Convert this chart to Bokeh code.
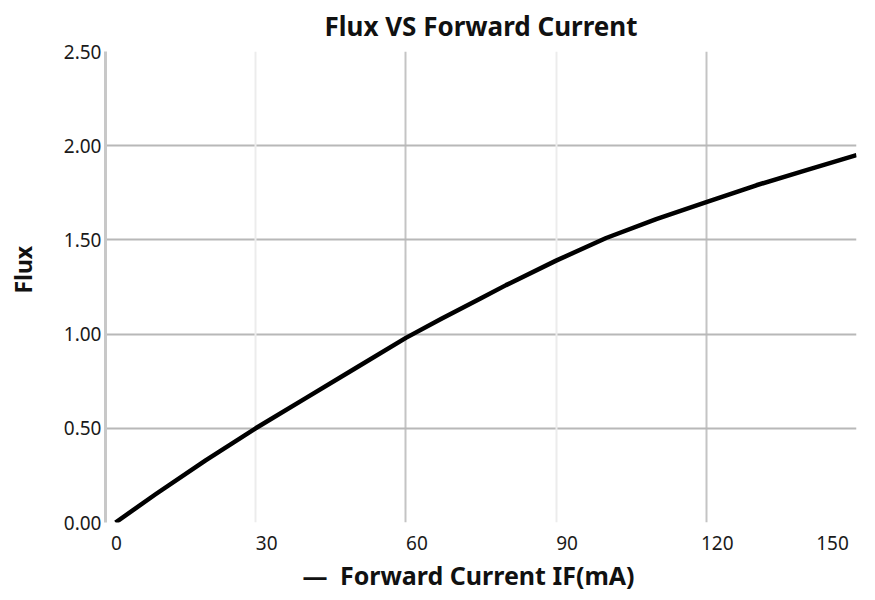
from bokeh.plotting import figure
from bokeh.models import (Range1d, FixedTicker, Grid, LinearAxis, NumeralTickFormatter)
from bokeh.embed import file_html
from bokeh.resources import INLINE

# ---- data ----
current_ma = [2, 10, 20, 30, 40, 50, 60, 67, 75, 80, 90, 100, 110, 120, 130, 140, 150]
flux = [0.00, 0.15, 0.33, 0.50, 0.66, 0.82, 0.98, 1.08, 1.19, 1.26, 1.39, 1.51, 1.61, 1.70,
        1.79, 1.87, 1.95]

x_ticks = [0, 30, 60, 90, 120, 150]
x_major_grid = [60, 120]
x_faint_grid = [30, 90, 150]
y_ticks = [0.0, 0.5, 1.0, 1.5, 2.0, 2.5]

title_text = "Flux VS Forward Current"
y_title = "\u2002\u2002\u2002Flux"
x_title = "—\u2002Forward Current IF(mA)\u2002\u2002"

FONT = "Noto Sans"
X_MIN, X_MAX = 0, 150
Y_MIN, Y_MAX = 0, 2.5

p = figure(width=875, height=600, output_backend="svg", toolbar_location=None,
           x_range=Range1d(X_MIN, X_MAX), y_range=Range1d(Y_MIN, Y_MAX),
           min_border_left=105, min_border_right=19, min_border_top=51, min_border_bottom=78,
           title=title_text)
p.outline_line_color = None
p.background_fill_color = "white"
p.border_fill_color = "white"

p.title.align = "center"
p.title.vertical_align = "middle"
p.title.text_font = FONT
p.title.text_font_size = "26px"
p.title.text_font_style = "bold"
p.title.text_color = "#111111"
p.title.standoff = 13

# the tick labels of the reference sit a little right of their ticks (and "150" is
# pulled inside the plot); label-only axes on slightly shifted ranges reproduce that
px_per_unit = 751 / (X_MAX - X_MIN)
p.extra_x_ranges = {
    "labels": Range1d(X_MIN - 11 / px_per_unit, X_MAX - 11 / px_per_unit),
    "last": Range1d(X_MIN + 24 / px_per_unit, X_MAX + 24 / px_per_unit),
}

# y axis (tick labels, left edge line, title)
yax = p.yaxis[0]
yax.ticker = FixedTicker(ticks=y_ticks)
yax.formatter = NumeralTickFormatter(format="0.00")
yax.major_label_text_font = FONT
yax.major_label_text_font_size = "19px"
yax.major_label_text_color = "#1a1a1a"
yax.major_label_standoff = 4
yax.axis_line_color = "#c8c8c8"
yax.axis_line_width = 3
yax.major_tick_line_color = None
yax.major_tick_out = 0
yax.major_tick_in = 0
yax.minor_tick_line_color = None
yax.axis_label = y_title
yax.axis_label_standoff = 22
yax.axis_label_text_font = FONT
yax.axis_label_text_font_size = "23px"
yax.axis_label_text_font_style = "bold"
yax.axis_label_text_color = "#111111"

# x axis A: ticks 0..120
xa = p.xaxis[0]
xa.x_range_name = "labels"
xa.ticker = FixedTicker(ticks=x_ticks[:-1])
xa.major_label_text_font = FONT
xa.major_label_text_font_size = "19px"
xa.major_label_text_color = "#1a1a1a"
xa.major_label_standoff = 13
xa.axis_line_color = None
xa.major_tick_line_color = None
xa.major_tick_out = 0
xa.major_tick_in = 0
xa.minor_tick_line_color = None

# x axis B: last tick (150) on the same row, plus the axis title
xb = LinearAxis(x_range_name="last", ticker=FixedTicker(ticks=x_ticks[-1:]),
                major_label_text_font=FONT, major_label_text_font_size="19px",
                major_label_text_color="#1a1a1a", major_label_standoff=-17,
                axis_line_color=None, major_tick_line_color=None,
                major_tick_out=0, major_tick_in=0, minor_tick_line_color=None,
                axis_label=x_title, axis_label_text_font=FONT,
                axis_label_text_font_size="25px", axis_label_text_font_style="bold",
                axis_label_text_color="#111111", axis_label_standoff=5)
p.add_layout(xb, "below")

# grids
p.ygrid[0].ticker = FixedTicker(ticks=y_ticks)
p.ygrid[0].grid_line_color = "#b8b8b8"
p.ygrid[0].grid_line_width = 2
p.xgrid[0].x_range_name = "default"
p.xgrid[0].ticker = FixedTicker(ticks=x_major_grid)
p.xgrid[0].grid_line_color = "#c4c4c4"
p.xgrid[0].grid_line_width = 2
faint = Grid(dimension=0, ticker=FixedTicker(ticks=x_faint_grid),
             grid_line_color="#ececec", grid_line_width=2)
p.add_layout(faint)

# curve
p.line(current_ma, flux, line_color="black", line_width=4.5, line_join="round")

open("out.html", "w").write(file_html(p, INLINE))
